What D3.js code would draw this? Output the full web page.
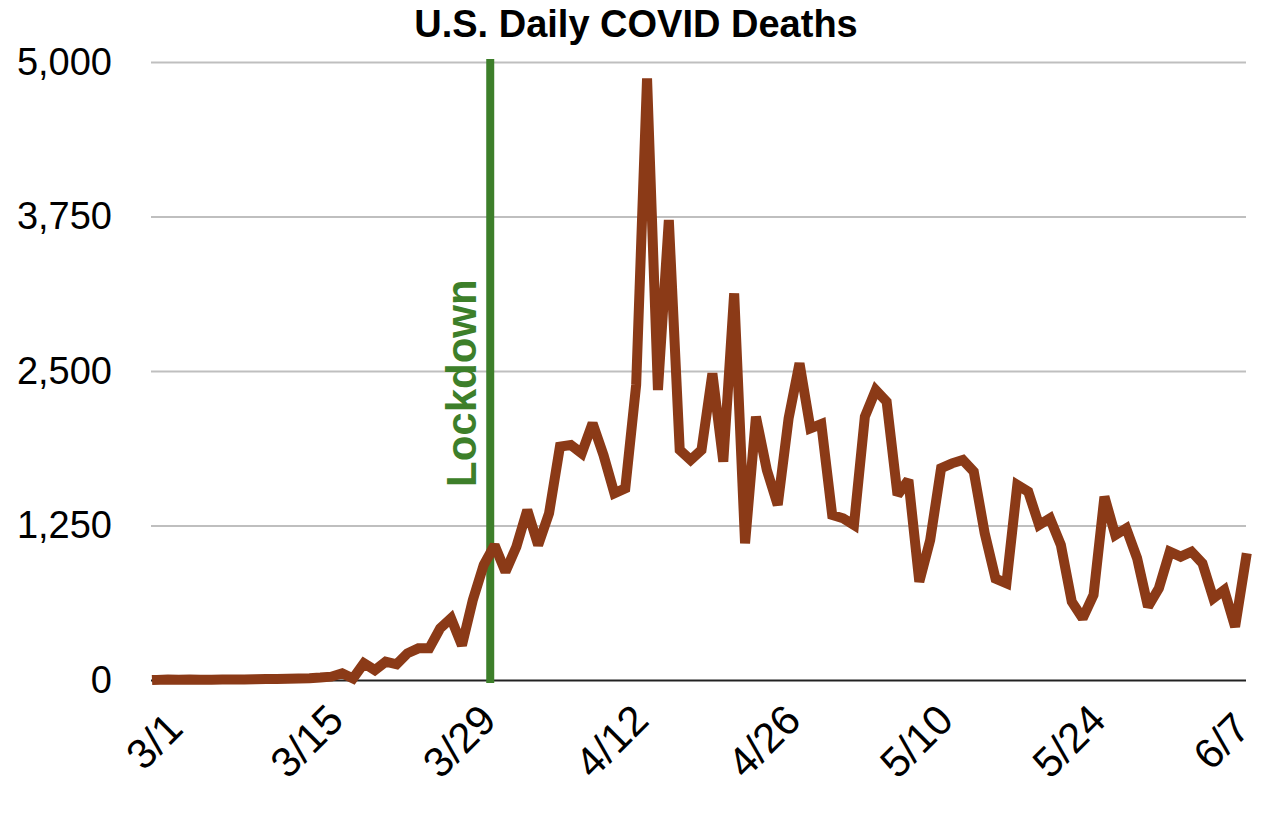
<!DOCTYPE html>
<html>
<head>
<meta charset="utf-8">
<script src="https://cdn.jsdelivr.net/npm/d3@7"></script>
<style>
  body { margin: 0; background: #fff; }
  text { font-family: "Liberation Sans", Arial, Helvetica, sans-serif; }
</style>
</head>
<body>
<div id="chart"></div>
<script>
// daily deaths, one value per day starting 3/1 (last point is 6/9)
var deaths = [
  1, 5, 3, 4, 2, 3, 4, 5, 4, 6,
  8, 9, 10, 12, 15, 20, 27, 54, 12, 135,
  80, 148, 127, 216, 256, 256, 418, 499, 280, 647,
  930, 1090, 876, 1078, 1375, 1092, 1348, 1888, 1901, 1834,
  2077, 1820, 1510, 1551, 2387, 4868, 2346, 3722, 1861, 1780,
  1861, 2481, 1766, 3128, 1106, 2130, 1699, 1416, 2117, 2562,
  2036, 2071, 1335, 1308, 1254, 2130, 2346, 2252, 1497, 1618,
  795, 1133, 1713, 1753, 1780, 1686, 1190, 820, 782, 1578,
  1524, 1254, 1308, 1092, 634, 499, 688, 1483, 1173, 1227,
  985, 593, 742, 1038, 998, 1038, 944, 661, 728, 431,
  985
];
var tickLabels = ["3/1", "3/15", "3/29", "4/12", "4/26", "5/10", "5/24", "6/7"];
var tickStep = 14;
var yTicks = [0, 1250, 2500, 3750, 5000];
var lockdownDay = 30.6;   // between 3/31 and 4/1
var lockdownLabel = "Lockdown";
var title = "U.S. Daily COVID Deaths";

var margin = {top: 62, right: 40, bottom: 134, left: 151},
    width = 1286 - margin.left - margin.right,
    height = 814 - margin.top - margin.bottom;

var svg = d3.select("#chart")
  .append("svg")
    .attr("width", width + margin.left + margin.right)
    .attr("height", height + margin.top + margin.bottom)
  .append("g")
    .attr("transform", "translate(" + margin.left + "," + margin.top + ")");

// first day sits a little inside the plot edge
var x = d3.scaleLinear()
  .domain([0, deaths.length - 1])
  .range([6, width]);

var y = d3.scaleLinear()
  .domain([0, 5000])
  .range([height, 0]);

// gridlines + y labels
var yAxis = svg.append("g")
  .call(d3.axisLeft(y)
    .tickValues(yTicks)
    .tickSize(-width)
    .tickPadding(39)
    .tickFormat(d3.format(",")));
yAxis.select(".domain").remove();
yAxis.selectAll(".tick line")
  .attr("stroke", function(d) { return d === 0 ? "#222" : "#bfbfbf"; })
  .attr("stroke-width", 2);
yAxis.selectAll(".tick text")
  .style("font-size", "38px")
  .attr("fill", "#000");

// x labels, rotated
var xTicks = tickLabels.map(function(d, i) { return i * tickStep; });
svg.append("g")
  .selectAll("text")
  .data(xTicks)
  .enter()
  .append("text")
    .attr("transform", function(d) { return "translate(" + (x(d) - 3) + "," + (height + 61) + ") rotate(-45)"; })
    .attr("text-anchor", "middle")
    .attr("dy", "0.35em")
    .style("font-size", "42px")
    .text(function(d, i) { return tickLabels[i]; });

// lockdown marker
svg.append("line")
  .attr("x1", x(lockdownDay))
  .attr("x2", x(lockdownDay))
  .attr("y1", y(5000) - 3)
  .attr("y2", y(0) + 3)
  .attr("stroke", "#3d7f2a")
  .attr("stroke-width", 8);

svg.append("text")
  .attr("transform", "translate(" + (x(lockdownDay) - 14) + "," + (y(0) - 193) + ") rotate(-90)")
  .attr("text-anchor", "start")
  .style("font-size", "42px")
  .style("font-weight", "bold")
  .attr("fill", "#3d7f2a")
  .text(lockdownLabel);

// the line
svg.append("path")
  .datum(deaths)
  .attr("d", d3.line()
    .x(function(d, i) { return x(i); })
    .y(function(d) { return y(d); }))
  .attr("fill", "none")
  .attr("stroke", "#8b3a17")
  .attr("stroke-width", 10)
  .attr("stroke-linecap", "square")
  .attr("stroke-linejoin", "miter")
  .attr("stroke-miterlimit", 2);

// title
svg.append("text")
  .attr("x", 636 - margin.left)
  .attr("y", 37 - margin.top)
  .attr("text-anchor", "middle")
  .style("font-size", "38px")
  .style("font-weight", "bold")
  .text(title);
</script>
</body>
</html>
